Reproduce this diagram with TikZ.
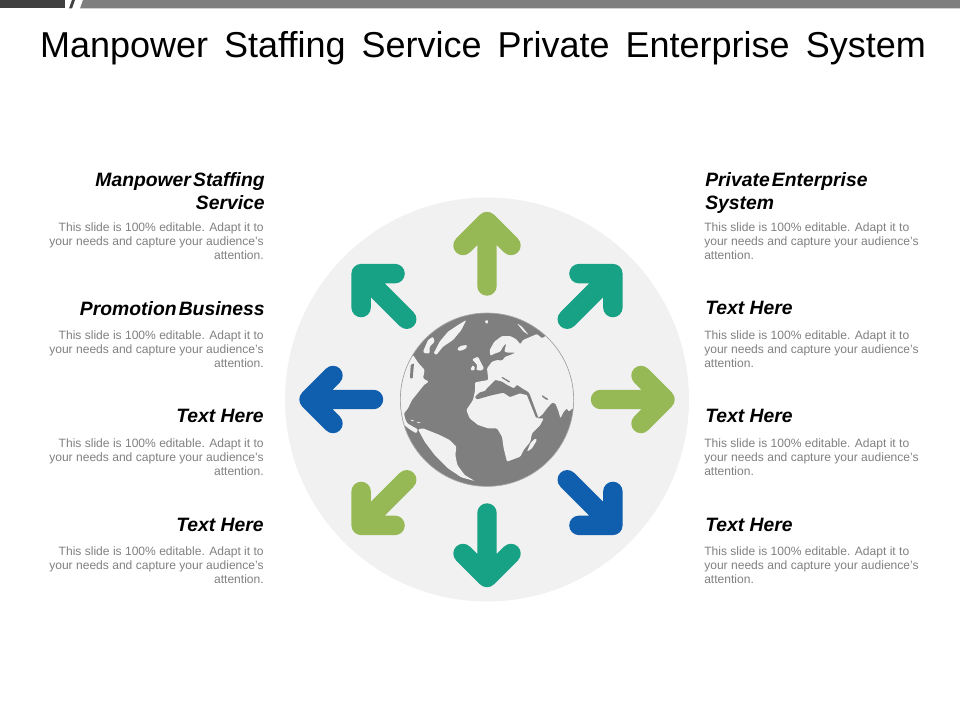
\documentclass[tikz,border=0pt]{standalone}
\usepackage{fontspec}
\setmainfont{Liberation Sans}
\usepackage{tikz}
\usetikzlibrary{calc}
\definecolor{bardark}{HTML}{404040}
\definecolor{globegrey}{HTML}{7F7F7F}
\definecolor{discgrey}{HTML}{F1F1F1}
\definecolor{bodygrey}{HTML}{808080}
\definecolor{arrowgreen}{HTML}{97B955}
\definecolor{arrowteal}{HTML}{17A185}
\definecolor{arrowblue}{HTML}{0F5FAE}
\begin{document}
\begin{tikzpicture}[x=0.75pt,y=-0.75pt]
\tikzstyle{titletext} = [anchor=base, inner sep=0pt, font=\fontsize{27}{30}\selectfont, execute at begin node={\spaceskip=0.445em\relax}]
\tikzstyle{tightwords} = [execute at begin node={\spaceskip=0.11em\relax}]
\tikzstyle{headleft} = [anchor=north east, align=right, inner sep=0pt, font=\fontsize{14.5}{17.25}\selectfont\bfseries\itshape]
\tikzstyle{headright} = [anchor=north west, align=left, inner sep=0pt, font=\fontsize{14.5}{17.25}\selectfont\bfseries\itshape]
\tikzstyle{bodyleft} = [anchor=north east, align=right, inner sep=0pt, text=bodygrey, font=\fontsize{9.05}{10.5}\selectfont]
\tikzstyle{bodyright} = [anchor=north west, align=left, inner sep=0pt, text=bodygrey, font=\fontsize{9.05}{10.5}\selectfont]
\tikzstyle{arrowshape} = [line width=14.6pt, line cap=round, line join=round]
\tikzstyle{land} = [discgrey, rounded corners=0.8pt]
\tikzstyle{sea} = [globegrey, rounded corners=0.5pt]
\useasboundingbox (0,0) rectangle (960,720);
% Top bar
\fill [bardark] (0,0) rectangle (65,8.5);
\fill [bardark] (69,8.5) -- (72,0) -- (75,0) -- (72,8.5) -- cycle;
\fill [globegrey] (80,8.5) -- (83,0) -- (960,0) -- (960,8.5) -- cycle;
% Title
\node (title) [titletext] at (483,58) {Manpower Staffing Service Private Enterprise System};
% Disc
\fill [discgrey] (487,399.5) circle [radius=151.5pt];
% Arrows
\foreach \ang/\col in {0/arrowgreen, -45/arrowteal, -90/arrowgreen, -135/arrowblue, 180/arrowteal, 135/arrowgreen, 90/arrowblue, 45/arrowteal}
{
\draw [arrowshape, \col, shift={(487,399.5)}, rotate=\ang] (-24,-154) -- (0,-178) -- (24,-154) (0,-178) -- (0,-113.5);
}
% Globe
\begin{scope}[shift={(390,305)}, x=0.25pt, y=-0.25pt]
\fill [globegrey] (291,284) circle [radius=65pt];
\clip (291,284) circle [radius=65pt];
% Eurasia and Africa
\fill [land] (249,285) -- (255,258) -- (255,232) -- (295,225) -- (291,190) -- (306,170) -- (321,165) -- (336,167) -- (346,155) -- (361,150) -- (376,143) -- (353,143) -- (343,140) -- (349,115) -- (339,125) -- (331,140) -- (316,145) -- (301,152) -- (299,135) -- (313,110) -- (336,93) -- (361,93) -- (379,103) -- (391,118) -- (399,105) -- (441,87) -- (456,100) -- (471,90) -- (520,120) -- (600,284) -- (600,300) -- (548,310) -- (536,320) -- (531,310) -- (521,320) -- (511,340) -- (506,320) -- (496,295) -- (486,293) -- (471,310) -- (456,330) -- (441,340) -- (461,340) -- (451,360) -- (426,385) -- (421,410) -- (401,435) -- (391,455) -- (351,470) -- (341,430) -- (336,395) -- (321,370) -- (294,370) -- (264,360) -- (239,340) -- (229,315) -- cycle;
% Greenland, Iceland, Britain, Ireland, Novaya Zemlya, Madagascar
\fill [land] (131,145) -- (149,110) -- (174,80) -- (204,60) -- (229,45) -- (214,75) -- (189,105) -- (159,125) -- (139,150) -- cycle;
\fill [land] (202,130) -- (214,122) -- (231,120) -- (229,130) -- (214,137) -- (204,137) -- cycle;
\fill [land] (246,163) -- (264,155) -- (274,175) -- (282,190) -- (274,197) -- (259,195) -- (262,180) -- cycle;
\fill [land] (241,193) -- (249,180) -- (256,190) -- (249,198) -- cycle;
\fill [land] (381,55) -- (396,65) -- (416,90) -- (401,80) -- cycle;
\fill [land] (411,440) -- (421,415) -- (436,400) -- (441,405) -- (426,430) -- cycle;
\fill [land] (283,48) -- (295,45) -- (292,58) -- cycle;
% America
\fill [land] (20,285) -- (36,225) -- (49,180) -- (69,150) -- (79,165) -- (86,175) -- (104,195) -- (99,220) -- (116,230) -- (102,240) -- (86,260) -- (66,285) -- (54,310) -- (42,325) -- (46,343) -- (52,355) -- (69,365) -- (84,373) -- (79,385) -- (59,373) -- (49,365) -- (20,345) -- cycle;
\fill [land] (99,140) -- (114,105) -- (129,95) -- (134,110) -- (119,125) -- (119,145) -- (104,145) -- cycle;
\fill [land] (84,373) -- (99,370) -- (124,380) -- (149,390) -- (179,405) -- (199,425) -- (196,450) -- (202,480) -- (224,510) -- (254,528) -- (214,517) -- (174,490) -- (134,450) -- (104,410) -- cycle;
\fill [land] (59,343) -- (74,347) -- (69,350) -- cycle;
\fill [land] (79,350) -- (94,353) -- (84,355) -- cycle;
% Seas
\fill [sea] (62,180) -- (72,175) -- (68,220) -- (60,220) -- cycle;
\fill [sea] (258,272) -- (270,262) -- (285,258) -- (291,250) -- (316,225) -- (336,230) -- (351,240) -- (371,250) -- (381,240) -- (396,250) -- (416,262) -- (418,272) -- (390,265) -- (360,276) -- (340,263) -- (300,272) -- (262,283) -- (255,278) -- cycle;
\fill [sea] (336,215) -- (361,230) -- (358,233) -- (334,218) -- cycle;
\fill [sea] (456,270) -- (476,283) -- (470,285) -- (456,275) -- cycle;
\fill [sea] (410,268) -- (418,265) -- (445,338) -- (438,338) -- cycle;
\end{scope}
\draw [globegrey!70, line width=0.5pt] (487,399.7) circle [radius=65pt];
% Left column
\node (head_manpower) [headleft, tightwords] at (265,172) {Manpower Staffing\\Service};
\node (body_manpower) [bodyleft] at (264,222) {This slide is 100\% editable. Adapt it to\\your needs and capture your audience's\\attention.};
\node (head_promotion) [headleft, tightwords] at (265,301) {Promotion Business};
\node (body_promotion) [bodyleft] at (264,330) {This slide is 100\% editable. Adapt it to\\your needs and capture your audience's\\attention.};
\node (head_left_c) [headleft] at (264,409) {Text Here};
\node (body_left_c) [bodyleft] at (264,438) {This slide is 100\% editable. Adapt it to\\your needs and capture your audience's\\attention.};
\node (head_left_d) [headleft] at (264,518) {Text Here};
\node (body_left_d) [bodyleft] at (264,546) {This slide is 100\% editable. Adapt it to\\your needs and capture your audience's\\attention.};
% Right column
\node (head_private) [headright, tightwords] at (705,172) {Private Enterprise\\System};
\node (body_private) [bodyright] at (704,222) {This slide is 100\% editable. Adapt it to\\your needs and capture your audience's\\attention.};
\node (head_right_b) [headright] at (705,301) {Text Here};
\node (body_right_b) [bodyright] at (704,330) {This slide is 100\% editable. Adapt it to\\your needs and capture your audience's\\attention.};
\node (head_right_c) [headright] at (705,409) {Text Here};
\node (body_right_c) [bodyright] at (704,438) {This slide is 100\% editable. Adapt it to\\your needs and capture your audience's\\attention.};
\node (head_right_d) [headright] at (705,518) {Text Here};
\node (body_right_d) [bodyright] at (704,546) {This slide is 100\% editable. Adapt it to\\your needs and capture your audience's\\attention.};
\end{tikzpicture}
\end{document}
